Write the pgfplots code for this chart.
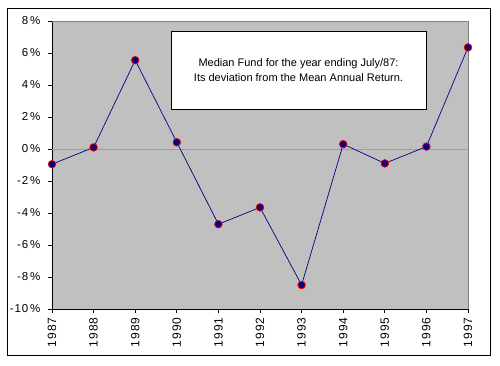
\documentclass[border=0pt]{standalone}
\usepackage{pgfplots}
\pgfplotsset{compat=1.18}
\usepackage{fontspec}
\setmainfont{Liberation Sans}
\newfontfamily\spaced[LetterSpace=8]{Liberation Sans}
\definecolor{plotgray}{RGB}{192,192,192}
\definecolor{navyb}{RGB}{0,0,128}
\definecolor{zeroline}{RGB}{255,128,64}
\begin{document}
\begin{tikzpicture}[x=1pt,y=1pt]
\begin{axis}[
  at={(0,0)}, anchor=south west,
  scale only axis, width=416pt, height=288pt,
  xmin=1987, xmax=1997, ymin=-10, ymax=8,
  axis background/.style={fill=plotgray},
  axis x line*=bottom, axis y line*=left,
  axis line style={black, line width=0.8pt, -},
  xtick={1987,...,1997},
  xticklabels={1987,1988,1989,1990,1991,1992,1993,1994,1995,1996,1997},
  ytick={-10,-8,...,8},
  yticklabels={-10\,\%,-8\,\%,-6\,\%,-4\,\%,-2\,\%,0\,\%,2\,\%,4\,\%,6\,\%,8\,\%},
  tick align=outside,
  major tick length=4pt,
  tick style={black, line width=0.8pt},
  x tick label style={rotate=90, anchor=east, font=\spaced\fontsize{12}{12}\selectfont, xshift=-1pt},
  y tick label style={font=\spaced\fontsize{11.5}{12}\selectfont, xshift=-4pt},
  clip=false,
]
\draw[zeroline, line width=0.7pt] (axis cs:1987,0) -- (axis cs:1997,0);
\draw[black!50, line width=0.8pt] (axis cs:1987,8) -- (axis cs:1997,8) -- (axis cs:1997,-10);
\addplot[navyb, line width=0.7pt, mark=*, mark size=3.8pt,
  mark options={fill=navyb, draw=red, line width=0.8pt}]
  coordinates {
  (1987,-0.95) (1988,0.1) (1989,5.55) (1990,0.42) (1991,-4.7) (1992,-3.65)
  (1993,-8.5) (1994,0.3) (1995,-0.9) (1996,0.15) (1997,6.35)
  };
\end{axis}
\draw[black, line width=0.8pt] (-45,-46) rectangle (438,301);
\node[draw=black, line width=0.8pt, fill=white, minimum width=255pt, minimum height=78pt,
  align=center, font=\fontsize{11}{15.5}\selectfont, inner sep=0pt] at (246.5,239)
  {Median Fund for the year ending July/87:\\Its deviation from the Mean Annual Return.};
\path[use as bounding box] (-52,-56) rectangle (448,309);
\end{tikzpicture}
\end{document}
